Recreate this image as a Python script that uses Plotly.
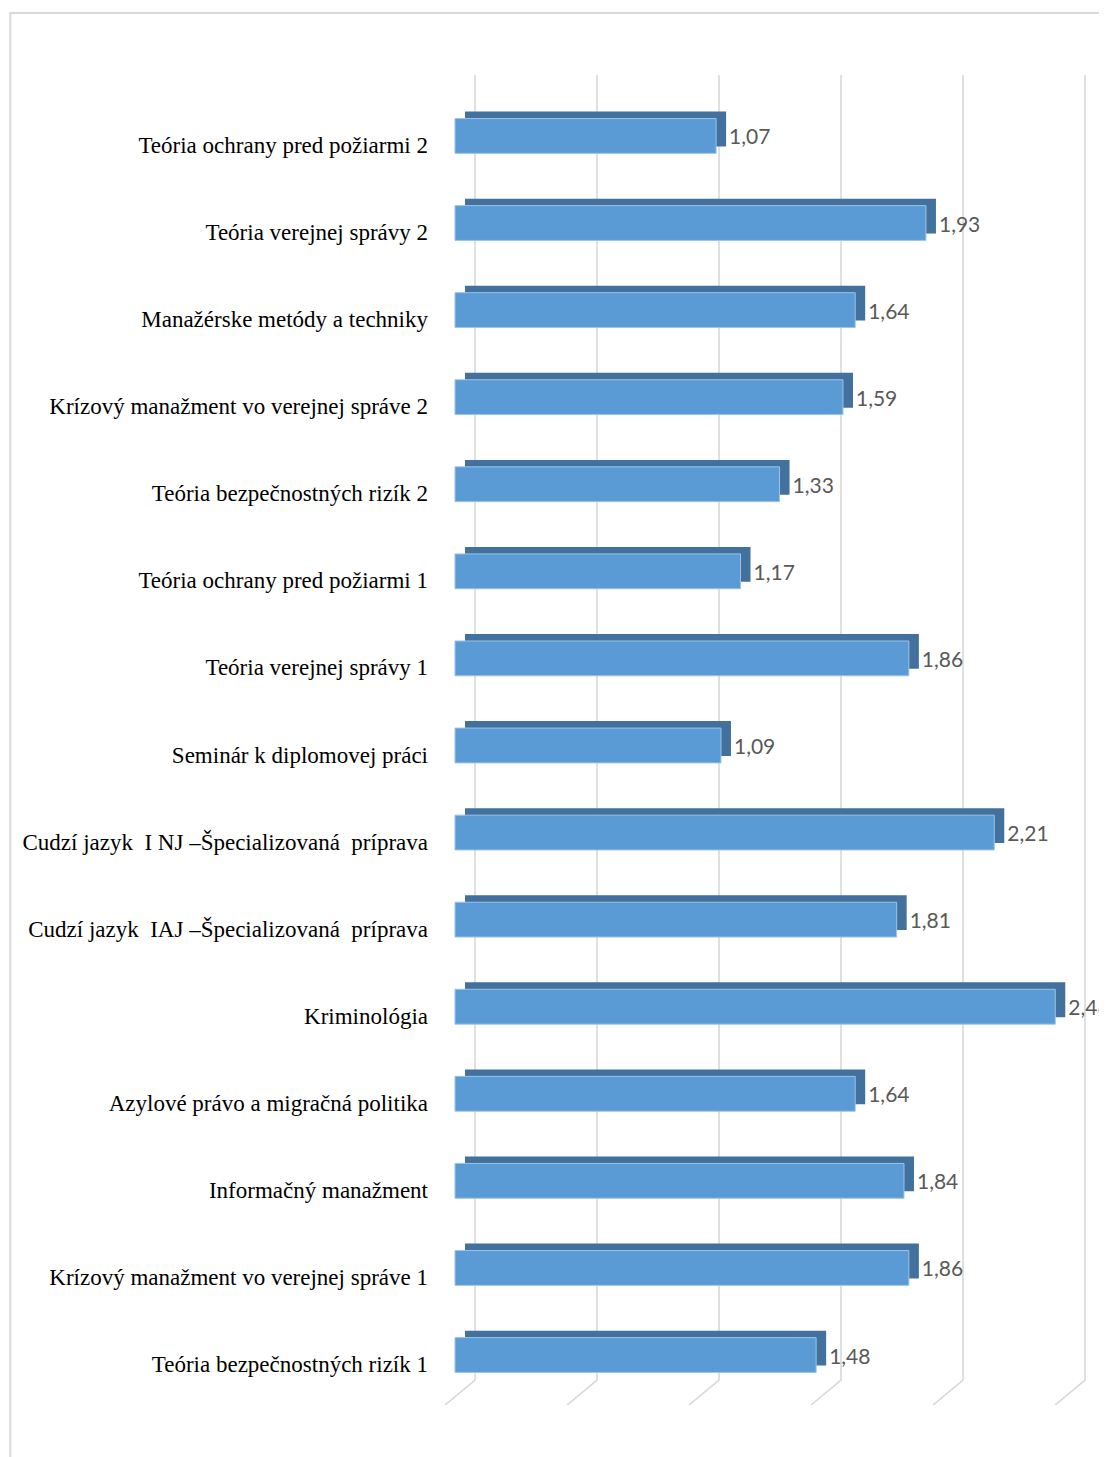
import plotly.graph_objects as go

# predmety a priemerne hodnotenia (odcitane z grafu)
predmety = [
    "Teória ochrany pred požiarmi 2",
    "Teória verejnej správy 2",
    "Manažérske metódy a techniky",
    "Krízový manažment vo verejnej správe 2",
    "Teória bezpečnostných rizík 2",
    "Teória ochrany pred požiarmi 1",
    "Teória verejnej správy 1",
    "Seminár k diplomovej práci",
    "Cudzí jazyk  I NJ –Špecializovaná  príprava",
    "Cudzí jazyk  IAJ –Špecializovaná  príprava",
    "Kriminológia",
    "Azylové právo a migračná politika",
    "Informačný manažment",
    "Krízový manažment vo verejnej správe 1",
    "Teória bezpečnostných rizík 1",
]
hodnoty = [1.07, 1.93, 1.64, 1.59, 1.33, 1.17, 1.86, 1.09, 2.21, 1.81, 2.46, 1.64, 1.84, 1.86, 1.48]
ticky = [0, 0.5, 1.0, 1.5, 2.0, 2.5]

# pseudo 3D geometria (v jednotkach osi)
hlbka_x = 0.041     # posun zadnej steny doprava
hlbka_y = 0.08      # posun zadnej steny nahor
stena_x = 0.082     # mriezka na zadnej stene
podlaha_x = -0.041  # predny okraj podlahy
y_hore = -0.70
y_stena = 14.287
y_dole = 14.574

idx = list(range(len(predmety)))

# mriezka - zadna stena + sikme ciary podlahy (pod stlpcami)
mriezka = []
for t in ticky:
    cesta = "M %f %f L %f %f L %f %f" % (t + stena_x, y_hore, t + stena_x, y_stena, t + podlaha_x, y_dole)
    mriezka.append(dict(type="path", path=cesta, xref="x", yref="y",
                        line=dict(color="#D9D9D9", width=1.6), layer="below"))

# oramovanie grafu
mriezka.append(dict(type="rect", xref="paper", yref="paper", x0=-0.632, x1=1.2, y0=-0.2, y1=1.0466,
                    line=dict(color="#D9D9D9", width=2), layer="below"))

# popisky hodnot (neviditelny stlpec v urovni prednej steny)
popisky = go.Bar(
    y=idx, x=hodnoty, base=hlbka_x, orientation="h",
    width=0.4, offset=-0.2,
    marker=dict(color="rgba(0,0,0,0)", line=dict(width=0)),
    text=hodnoty, texttemplate="%{x:.2f}", textposition="outside",
    textfont=dict(family="Lato", size=21, color="#595959"),
    cliponaxis=False, showlegend=False,
)
# horna a bocna stena kvadra
hlbka = go.Bar(
    y=idx, x=hodnoty, base=hlbka_x, orientation="h",
    width=0.4, offset=-0.2 - hlbka_y,
    marker=dict(color="#41719C", line=dict(width=0)),
    showlegend=False,
)
# predna stena
predok = go.Bar(
    y=idx, x=hodnoty, orientation="h",
    width=0.4, offset=-0.2,
    marker=dict(color="#5B9BD5", line=dict(color="#9DC3E6", width=1)),
    showlegend=False,
)

fig = go.Figure(data=[popisky, hlbka, predok])
fig.update_layout(
    width=1107, height=1457,
    margin=dict(l=427, r=8, t=67, b=60),
    barmode="overlay",
    separators=", ",
    plot_bgcolor="rgba(0,0,0,0)", paper_bgcolor="white",
    xaxis=dict(range=[-0.082, 2.672], showgrid=False, zeroline=False, showticklabels=False),
    yaxis=dict(range=[y_dole, y_hore], tickmode="array", tickvals=idx, ticktext=predmety,
               showgrid=False, zeroline=False, ticks="", ticklabelstandoff=6,
               ticklabelshift=-9,
               tickfont=dict(family="Liberation Serif", size=23, color="#000000")),
    shapes=mriezka,
)

fig.write_html("out.html")
